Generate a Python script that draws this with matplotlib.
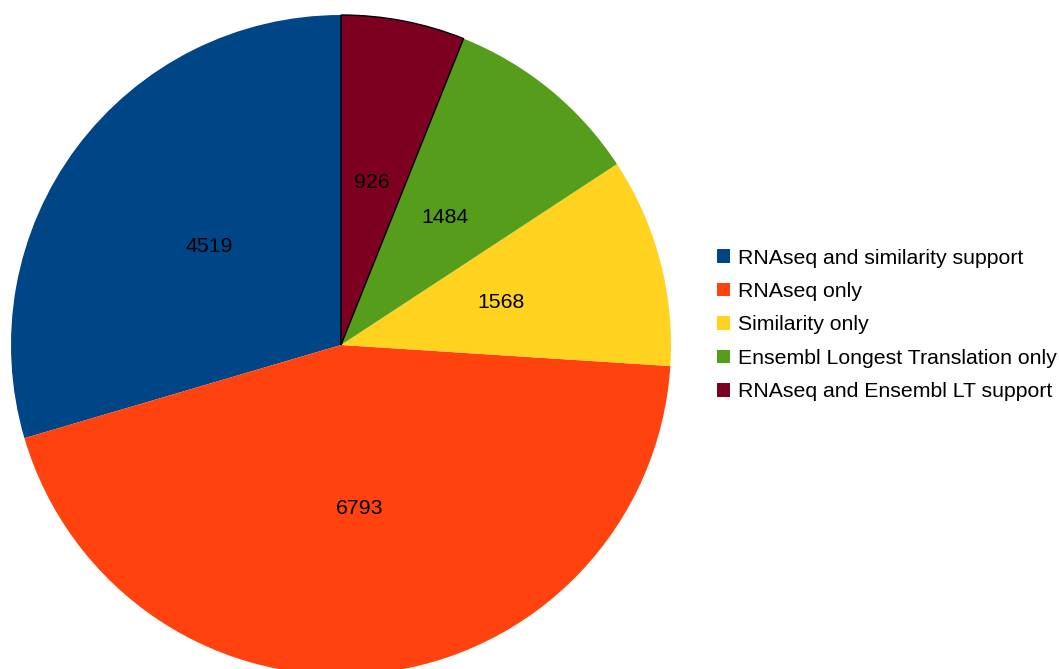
import matplotlib
matplotlib.use("Agg")
import matplotlib.pyplot as plt
from matplotlib.patches import Patch

categories = ["RNAseq and similarity support", "RNAseq only", "Similarity only",
              "Ensembl Longest Translation only", "RNAseq and Ensembl LT support"]
values = [4519, 6793, 1568, 1484, 926]
colors = ["#004586", "#ff420e", "#ffd320", "#579d1c", "#7e0021"]

plt.rcParams['font.family'] = ['Liberation Sans', 'DejaVu Sans']

W, H = 1059, 669
FS = 15.3
fig = plt.figure(figsize=(W / 100, H / 100), dpi=100)
ax = fig.add_axes([0, 0, 1, 1])

total = sum(values)
wedges, texts, autotexts = ax.pie(
    values, colors=colors, startangle=90, counterclock=True,
    center=(341, H - 345), radius=330, frame=True,
    autopct=lambda p: f"{round(p * total / 100):d}", pctdistance=0.5,
    wedgeprops=dict(linewidth=0),
    textprops=dict(fontsize=FS, color='black'))
ax.set_xlim(0, W)
ax.set_ylim(0, H)
ax.set_aspect('equal')
ax.axis('off')
wedges[4].set_edgecolor('black')
wedges[4].set_linewidth(1.0)

handles = [Patch(facecolor=c, edgecolor='none') for c in colors]
fig.legend(handles, categories, loc='center left', bbox_to_anchor=(717 / W, 1 - 325 / H),
           frameon=False, fontsize=FS, handlelength=0.6, handleheight=0.6,
           handletextpad=0.38, labelspacing=0.68, borderpad=0, borderaxespad=0)

fig.savefig("out.png", dpi=100)
